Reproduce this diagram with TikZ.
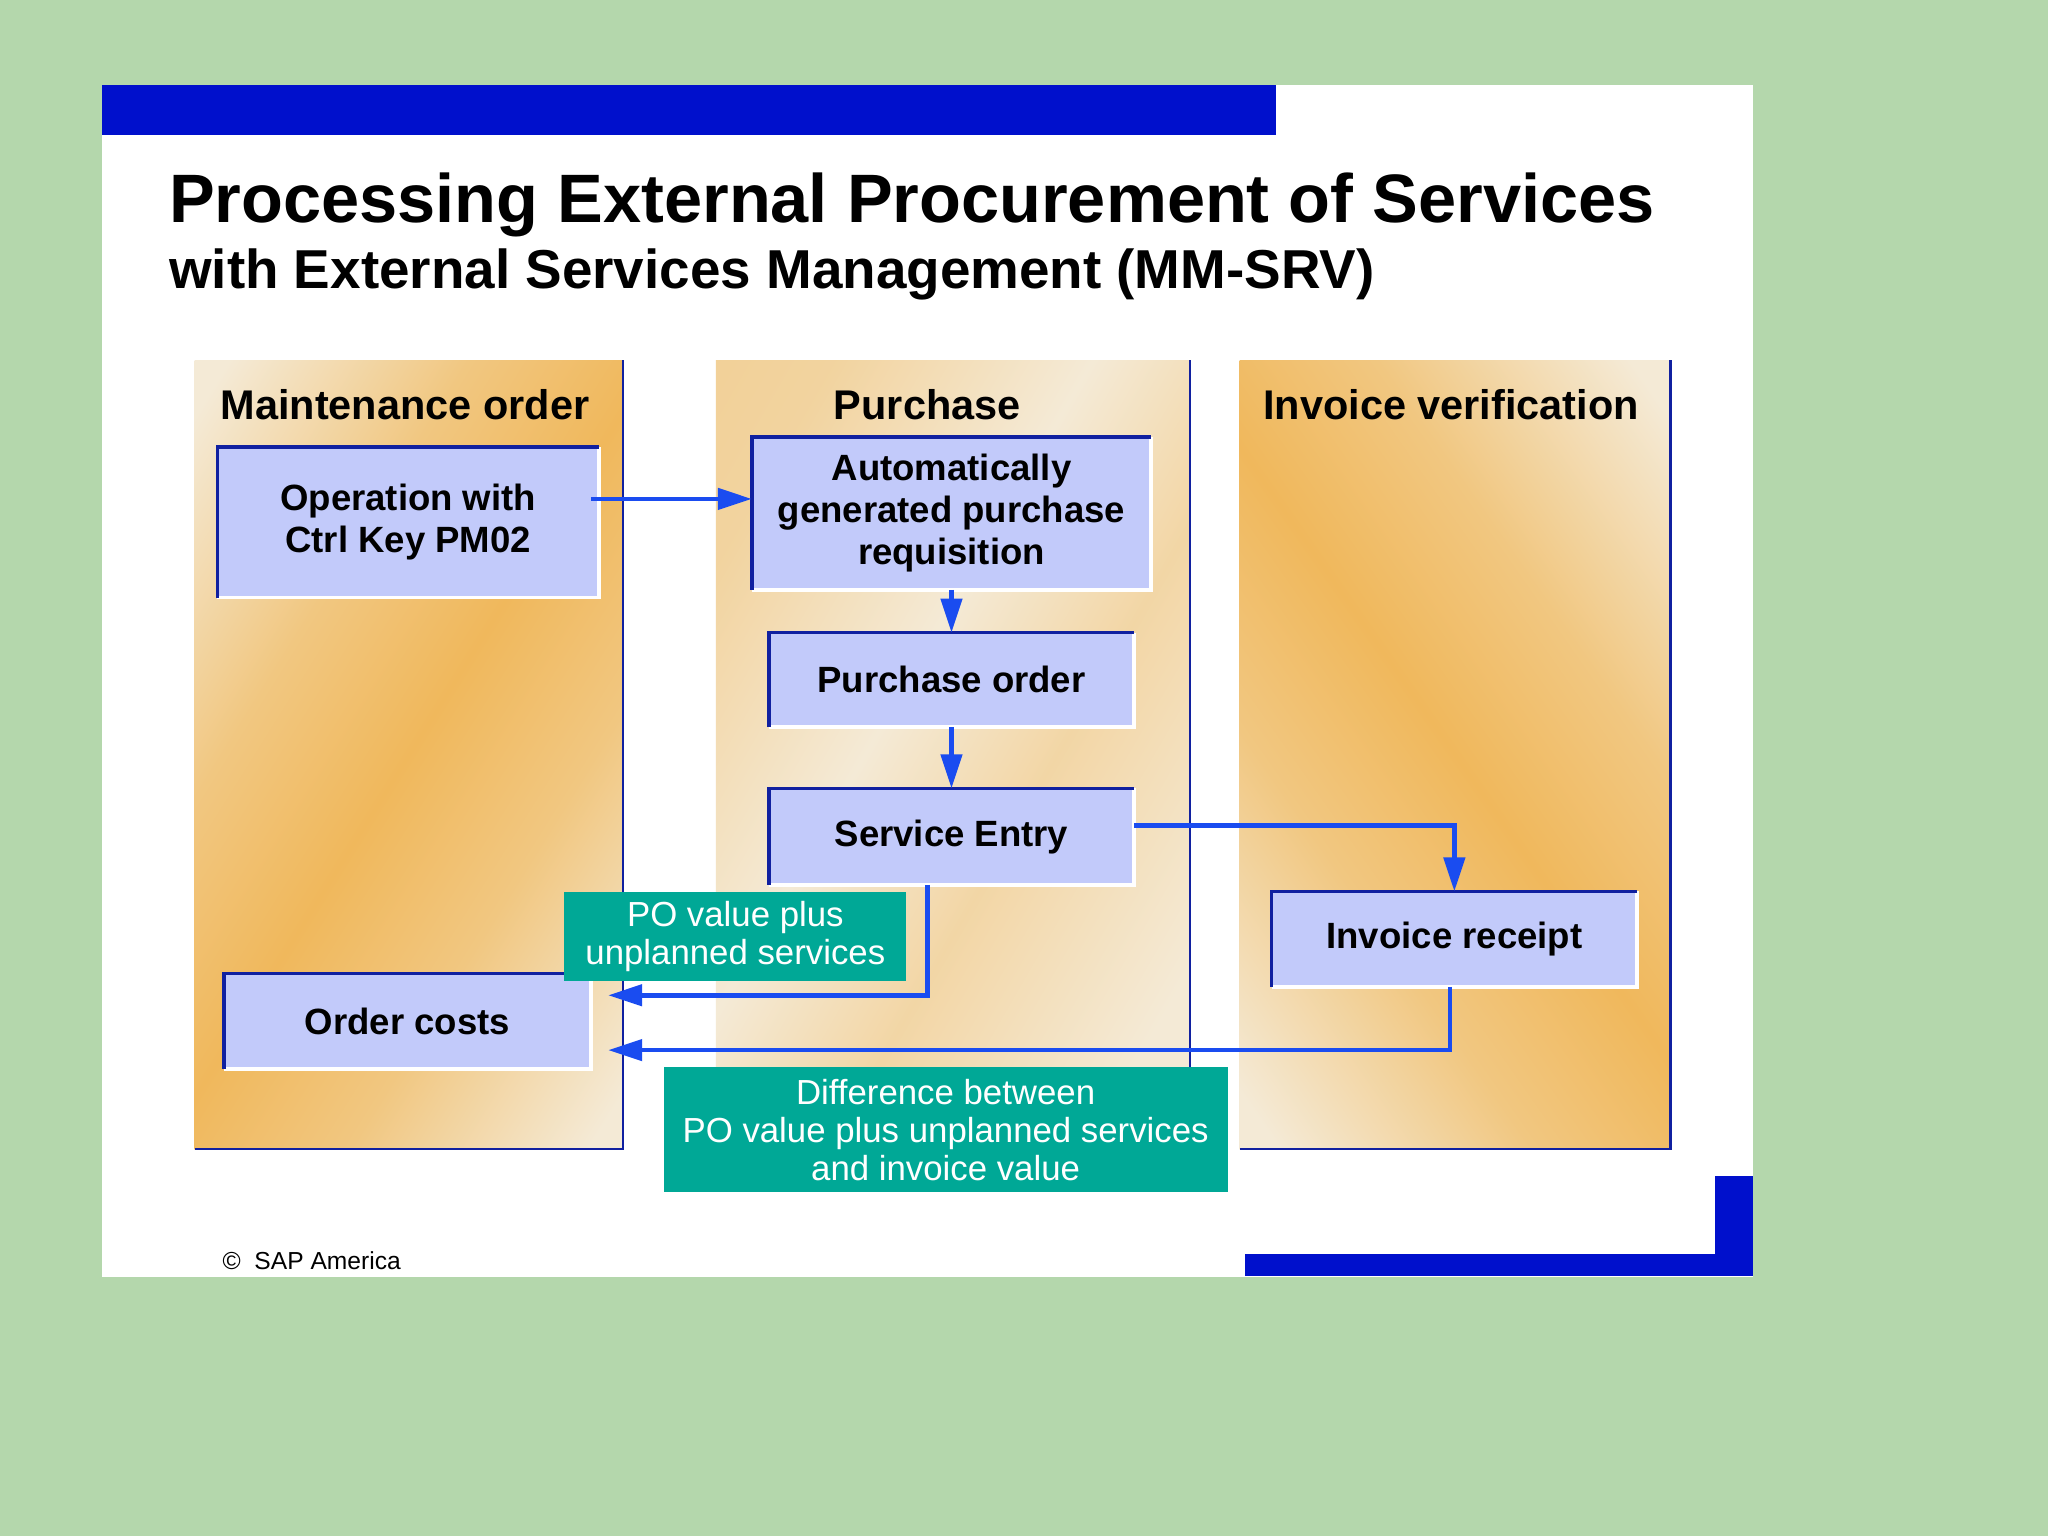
\documentclass[tikz,border=0pt]{standalone}
\usepackage{fontspec}
\setmainfont{Liberation Sans}
\usetikzlibrary{arrows.meta}
\definecolor{bggreen}{RGB}{180,215,172}
\definecolor{sapblue}{RGB}{0,16,204}
\definecolor{paleorange}{RGB}{244,234,214}
\definecolor{deeporange}{RGB}{240,184,92}
\definecolor{boxfill}{RGB}{194,202,250}
\definecolor{edgeblue}{RGB}{16,32,160}
\definecolor{flowblue}{RGB}{26,76,240}
\definecolor{notegreen}{RGB}{0,168,150}
\pgfdeclarehorizontalshading{panelshade}{100bp}{color(0bp)=(paleorange); color(18bp)=(paleorange); color(36bp)=(deeporange!70!paleorange); color(50bp)=(deeporange); color(64bp)=(deeporange!70!paleorange); color(82bp)=(paleorange); color(100bp)=(paleorange)}
\pgfdeclarehorizontalshading{panelshadelight}{100bp}{color(0bp)=(deeporange!60!paleorange); color(25bp)=(deeporange!45!paleorange); color(45bp)=(paleorange); color(60bp)=(deeporange!40!paleorange); color(80bp)=(paleorange); color(100bp)=(paleorange)}
\tikzset{
  panel/.style={shading=panelshade, shading angle=-32},
  rightpanel/.style={shading=panelshade, shading angle=35},
  lightpanel/.style={shading=panelshadelight, shading angle=-30},
  lane/.style={draw=edgeblue, line width=0.6pt},
  heading/.style={font=\bfseries\fontsize{11.8}{14}\selectfont},
  procbox/.style={fill=boxfill, inner sep=0pt, align=center, font=\bfseries\fontsize{10.4}{12}\selectfont},
  notebox/.style={fill=notegreen, inner sep=0pt, align=center, text=white, font=\fontsize{9.9}{10.8}\selectfont},
  flow/.style={draw=flowblue, line width=1.3pt, -{Triangle[length=0.34cm,width=0.21cm]}},
}
\begin{document}
\begin{tikzpicture}[x=0.01306cm, y=-0.01306cm]
\useasboundingbox (0,0) rectangle (1568,1176);
\fill[bggreen] (0,0) rectangle (1568,1176);
\fill[white] (78,65) rectangle (1342,978);
\fill[sapblue] (78,65) rectangle (977,103);
\fill[sapblue] (953,960) rectangle (1342,977);
\fill[sapblue] (1313,900) rectangle (1342,977);

\node[anchor=base west, font=\bfseries\fontsize{19.5}{23}\selectfont] (title) at (120,170) {Processing External Procurement of Services};
\node[anchor=base west, font=\bfseries\fontsize{15.6}{19}\selectfont] (subtitle) at (120,221) {with External Services Management (MM-SRV)};

\shade[panel] (149,276) rectangle (477,880);
\shade[lightpanel] (548,276) rectangle (911,817);
\shade[rightpanel] (949,276) rectangle (1279,880);
\draw[lane] (477,276) -- (477,880) -- (149,880);
\draw[lane] (911,276) -- (911,817);
\draw[lane] (1279,276) -- (1279,880) -- (949,880);

\node[heading, anchor=base] (mo) at (310,321) {Maintenance order};
\node[heading, anchor=base] (pu) at (710,321) {Purchase};
\node[heading, anchor=base] (iv) at (1111,321) {Invoice verification};

\node[procbox, minimum width=3.80cm, minimum height=1.49cm] (op) at (312.5,400) {Operation with\\Ctrl Key PM02};
\node[procbox, minimum width=3.98cm, minimum height=1.515cm] (pr) at (728.5,393) {Automatically\\generated purchase\\requisition};
\node[procbox, minimum width=3.64cm, minimum height=0.93cm] (po) at (728.5,520.5) {Purchase order};
\node[procbox, minimum width=3.64cm, minimum height=0.95cm] (se) at (728.5,640.5) {Service Entry};
\node[procbox, minimum width=3.64cm, minimum height=0.94cm] (ir) at (1113.5,719) {Invoice receipt};
\node[procbox, minimum width=3.66cm, minimum height=0.94cm] (oc) at (312,782) {Order costs};
\foreach \b in {op,pr,po,se,ir,oc} {
  \draw[white, line width=1pt] (\b.south west) -- (\b.south east) -- (\b.north east);
  \draw[edgeblue, line width=1pt] (\b.south west) -- (\b.north west) -- (\b.north east);
}

\node[notebox, minimum width=3.42cm, minimum height=0.89cm] (pov) at (563,717) {PO value plus\\unplanned services};
\node[notebox, minimum width=5.64cm, minimum height=1.25cm] (diff) at (724,865) {Difference between\\PO value plus unplanned services\\and invoice value};

\draw[flow] ([xshift=-0.08cm]op.east |- 0,382) -- (pr.west |- 0,382);
\draw[flow] (pr.south) -- (po.north);
\draw[flow] (po.south) -- (se.north);
\draw[flow] (se.east |- 0,632) -| (ir.north);
\draw[flow] (se.south -| 710,0) |- ([xshift=0.17cm]oc.east |- 0,762);
\draw[flow] (ir.south -| 1110,0) |- ([xshift=0.17cm]oc.east |- 0,804);

\node[anchor=base west, font=\fontsize{7}{9}\selectfont] (copy) at (161,972) {©\ \ SAP America};
\end{tikzpicture}
\end{document}
